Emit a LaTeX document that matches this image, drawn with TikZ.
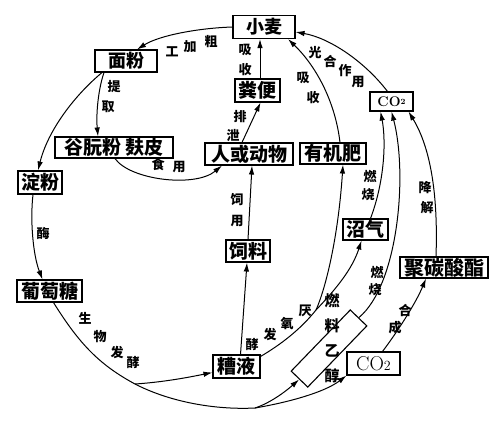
\documentclass[tikz,border=0pt]{standalone}
\usepackage{fontspec}
\newfontfamily\cjk{Noto Sans CJK SC}
\usetikzlibrary{arrows.meta}
\begin{document}
\begin{tikzpicture}[x=1pt,y=-1pt,
  box/.style={draw,line width=1.1pt,inner sep=0pt,minimum height=22pt,font=\cjk\bfseries\fontsize{19}{19}\selectfont},
  lab/.style={inner sep=0pt,font=\cjk\bfseries\fontsize{13}{13}\selectfont},
  arr/.style={line width=1pt,-{Latex[length=9pt,width=5.5pt]}},
  ln/.style={line width=1pt}]
\useasboundingbox[fill=white] (0,0) rectangle (500,424);
% nodes
\node[box,minimum width=62pt,minimum height=23pt,font=\cjk\bfseries\fontsize{18}{18}\selectfont] (wheat) at (264,27) {小麦};
\node[box,minimum width=62pt,font=\cjk\bfseries\fontsize{18}{18}\selectfont] (flour) at (126,61) {面粉};
\node[box,minimum width=118pt,minimum height=21pt] (gluten) at (114,147.5) {谷朊粉\hspace{5pt}麸皮};
\node[box,minimum width=44pt,minimum height=23pt] (starch) at (40,182.5) {淀粉};
\node[box,minimum width=45pt,minimum height=23pt] (feces) at (257.5,90.5) {粪便};
\node[box,minimum width=88pt] (human) at (249,154) {人或动物};
\node[box,minimum width=66pt,minimum height=21pt] (fert) at (333,153.5) {有机肥};
\node[box,minimum width=43pt,minimum height=19pt,font=\rmfamily\bfseries\fontsize{14}{14}\selectfont] (co2a) at (391.5,101.5) {CO\raisebox{2pt}{\fontsize{8}{8}\selectfont 2}};
\node[box,minimum width=45pt,minimum height=21pt] (biogas) at (365.5,229.5) {沼气};
\node[box,minimum width=44pt] (feed) at (248,251) {饲料};
\node[box,minimum width=88pt,minimum height=21pt,font=\cjk\bfseries\fontsize{20}{20}\selectfont] (pc) at (444,267.5) {聚碳酸酯};
\node[box,minimum width=65pt] (glucose) at (49.5,291) {葡萄糖};
\node[box,minimum width=47pt,minimum height=23pt] (lees) at (236.5,366.5) {糟液};
\node[box,minimum width=53pt,minimum height=23pt,font=\rmfamily\fontsize{20}{20}\selectfont] (co2b) at (373.5,363.5) {CO{\fontsize{14}{14}\selectfont 2}};
\node[draw,line width=1.1pt,inner sep=0pt,minimum width=85pt,minimum height=23pt,rotate=46] (eth) at (329,348.5) {};
\node[lab,align=center,font=\cjk\bfseries\fontsize{15}{25}\selectfont] (ethtext) at (332,338) {燃\\料\\乙\\醇};
% labels
\node[lab] (l1) at (172,52) {工};
\node[lab] (l2) at (190,47) {加};
\node[lab] (l3) at (211,42) {粗};
\node[lab] (l4) at (114,87) {提};
\node[lab] (l5) at (108,107) {取};
\node[lab] (l6) at (158,164) {食};
\node[lab] (l7) at (179,167) {用};
\node[lab] (l8) at (43,233) {酶};
\node[lab] (l9) at (85,318) {生};
\node[lab] (l10) at (100,337) {物};
\node[lab] (l11) at (117,352) {发};
\node[lab] (l12) at (133,363) {酵};
\node[lab] (l13) at (245,50) {吸};
\node[lab] (l14) at (245,70) {收};
\node[lab] (l15) at (240,117) {排};
\node[lab] (l16) at (233,135) {泄};
\node[lab] (l17) at (237,200) {饲};
\node[lab] (l18) at (237,221) {用};
\node[lab] (l19) at (303,78) {吸};
\node[lab] (l20) at (313,98) {收};
\node[lab] (l21) at (315,53) {光};
\node[lab] (l22) at (330,62) {合};
\node[lab] (l23) at (345,71) {作};
\node[lab] (l24) at (358,82) {用};
\node[lab] (l25) at (370,176) {燃};
\node[lab] (l26) at (368,195) {烧};
\node[lab] (l27) at (425,188) {降};
\node[lab] (l28) at (427,208) {解};
\node[lab] (l29) at (377,272) {燃};
\node[lab] (l30) at (375,290) {烧};
\node[lab] (l31) at (405,310) {合};
\node[lab] (l32) at (395,328) {成};
\node[lab] (l33) at (252,345) {酵};
\node[lab] (l34) at (270,334) {发};
\node[lab] (l35) at (287,324) {氧};
\node[lab] (l36) at (305,311) {厌};
% split points
\coordinate (sa) at (135,384);
\coordinate (sb) at (255,408);
\coordinate (sc) at (316,310);
% connectors
\draw[arr] (wheat.west) .. controls (200,28) and (160,35) .. ([xshift=11pt]flour.north);
\draw[arr] ([xshift=-22pt]flour.south) .. controls (98,90) and (96,115) .. ([xshift=-16pt]gluten.north);
\draw[arr] ([xshift=-24pt]flour.south) .. controls (75,95) and (48,130) .. ([xshift=-2pt]starch.north);
\draw[arr] ([xshift=1pt]gluten.south) .. controls (130,180) and (195,188) .. ([xshift=-27pt]human.south);
\draw[arr] ([xshift=-7pt]starch.south) .. controls (30,220) and (33,255) .. ([xshift=-7pt]glucose.north);
\draw[ln] ([xshift=4pt]glucose.south) .. controls (80,345) and (100,365) .. (sa) .. controls (170,402) and (215,410) .. (sb);
\draw[arr] (sa) .. controls (165,382) and (190,377) .. ([yshift=-6pt]lees.west);
\draw[arr] (sb) .. controls (270,403) and (285,392) .. (eth.west);
\draw[arr] (sb) .. controls (290,402) and (325,392) .. (co2b.south west);
\draw[arr] ([xshift=4pt]lees.north) -- ([xshift=-1pt]feed.south);
\draw[arr] (feed.north) -- ([xshift=3pt]human.south);
\draw[arr] ([xshift=-7pt]human.north) -- ([xshift=3pt]feces.south);
\draw[arr] ([xshift=2.5pt]feces.north) -- ([xshift=2.5pt]feces.north |- wheat.south);
\draw[arr] ([xshift=7pt]fert.north) .. controls (335,100) and (315,65) .. ([xshift=24pt]wheat.south);
\draw[arr] ([xshift=-4pt]co2a.north) .. controls (365,62) and (330,38) .. ([yshift=-5pt]wheat.east);
\draw[arr] ([xshift=5pt]biogas.north) .. controls (385,180) and (386,140) .. ([xshift=-11pt]co2a.south);
\draw[arr] (eth.east) .. controls (398,285) and (408,175) .. (co2a.south);
\draw[arr] ([xshift=-8pt]pc.north) .. controls (438,200) and (432,150) .. ([xshift=17pt]co2a.south);
\draw[arr] ([xshift=9pt]co2b.north) .. controls (395,335) and (415,305) .. ([xshift=-18pt]pc.south);
\draw[ln] ([yshift=-2pt]lees.north east) .. controls (280,345) and (300,330) .. (sc);
\draw[arr] (sc) .. controls (325,290) and (338,240) .. ([xshift=10pt]fert.south);
\draw[arr] (sc) .. controls (335,290) and (352,270) .. ([xshift=-4pt]biogas.south);
\end{tikzpicture}
\end{document}
